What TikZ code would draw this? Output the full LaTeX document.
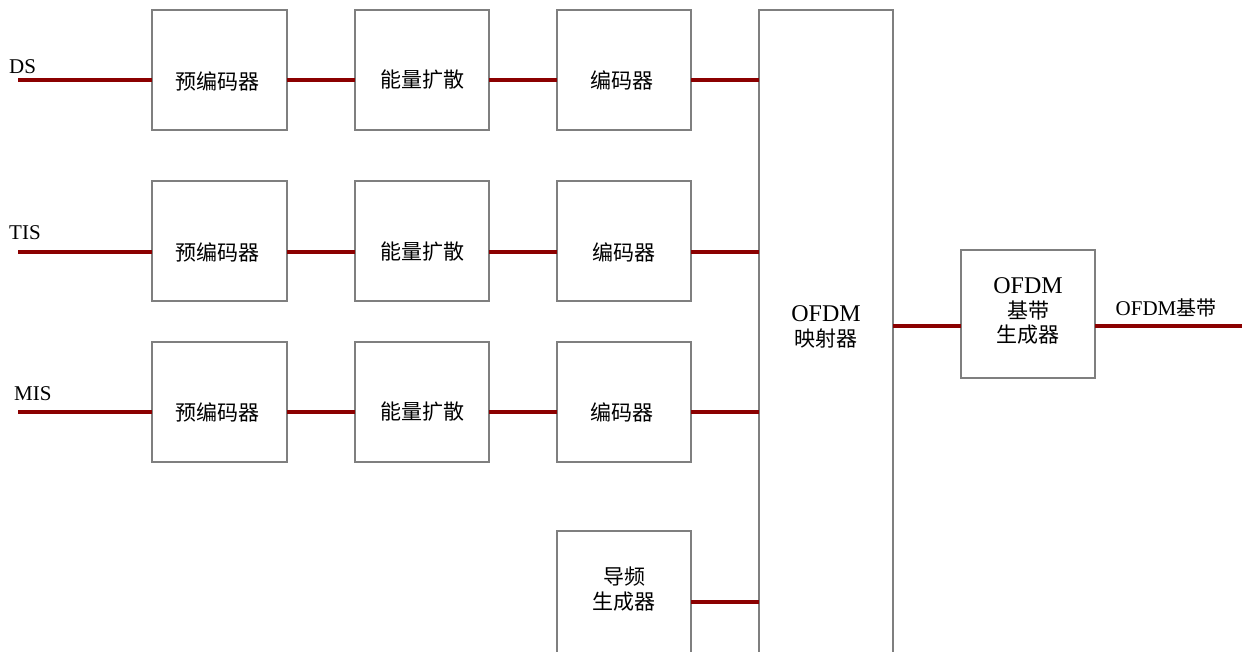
\documentclass[tikz,border=0pt]{standalone}
\usepackage{fontspec}
\setmainfont{Liberation Serif}
\newfontfamily\cjk{Noto Sans CJK SC}
\usetikzlibrary{fit}
\definecolor{wirecol}{HTML}{8B0000}
\definecolor{edgecol}{HTML}{7F7F7F}
\tikzset{
  blk/.style={draw=edgecol, line width=1.4pt, inner sep=0pt, outer sep=0pt, fill=white},
  wire/.style={draw=wirecol, line width=3.5pt},
  txt/.style={font=\fontsize{21}{24.5}\selectfont, align=center, inner sep=0pt},
  lbl/.style={font=\fontsize{21}{24}\selectfont, inner sep=0pt}
}
\newcommand{\ofdmbig}[1]{{\fontsize{24}{24.5}\selectfont #1}}
\begin{document}
\begin{tikzpicture}[x=1pt,y=-1pt]
\useasboundingbox (0,0) rectangle (1242,651);
\clip (0,0) rectangle (1242,651);
% boxes
\node[blk, fit={(152,10)(287,130)}] (pre1) {};
\node[blk, fit={(355,10)(489,130)}] (ed1) {};
\node[blk, fit={(557,10)(691,130)}] (enc1) {};
\node[blk, fit={(152,181)(287,301)}] (pre2) {};
\node[blk, fit={(355,181)(489,301)}] (ed2) {};
\node[blk, fit={(557,181)(691,301)}] (enc2) {};
\node[blk, fit={(152,342)(287,462)}] (pre3) {};
\node[blk, fit={(355,342)(489,462)}] (ed3) {};
\node[blk, fit={(557,342)(691,462)}] (enc3) {};
\node[blk, fit={(557,531)(691,700)}] (pilot) {};
\node[blk, fit={(759,10)(893,700)}] (map) {};
\node[blk, fit={(961,250)(1095,378)}] (gen) {};
% texts
\node[txt] (tpre1) at (217,81) {\cjk 预编码器};
\node[txt] (ted1) at (422,80) {\cjk 能量扩散};
\node[txt] (tenc1) at (622,80) {\cjk 编码器};
\node[txt] (tpre2) at (217,252) {\cjk 预编码器};
\node[txt] (ted2) at (422,252) {\cjk 能量扩散};
\node[txt] (tenc2) at (624,252) {\cjk 编码器};
\node[txt] (tpre3) at (217,412) {\cjk 预编码器};
\node[txt] (ted3) at (422,412) {\cjk 能量扩散};
\node[txt] (tenc3) at (622,412) {\cjk 编码器};
\node[txt] (tpilot) at (624,589) {\cjk 导频\\\cjk 生成器};
\node[txt] (tmap) at (826,327) {\ofdmbig{OFDM}\\\cjk 映射器};
\node[txt] (tgen) at (1028,311) {\ofdmbig{OFDM}\\\cjk 基带\\\cjk 生成器};
% input/output coordinates
\coordinate (in1) at (18,80);
\coordinate (in2) at (18,252);
\coordinate (in3) at (18,412);
\coordinate (out) at (1242,326);
\node[lbl, anchor=south west] (lds) at (9,74) {DS};
\node[lbl, anchor=south west] (ltis) at (9,240) {TIS};
\node[lbl, anchor=south west] (lmis) at (14,401) {MIS};
\node[lbl, anchor=south] (lout) at (1166,317) {OFDM{\cjk\fontsize{20}{24}\selectfont 基带}};
% wires
\draw[wire] (in1) -- (pre1.west|-in1);
\draw[wire] (pre1.east|-in1) -- (ed1.west|-in1);
\draw[wire] (ed1.east|-in1) -- (enc1.west|-in1);
\draw[wire] (enc1.east|-in1) -- (map.west|-in1);
\draw[wire] (in2) -- (pre2.west|-in2);
\draw[wire] (pre2.east|-in2) -- (ed2.west|-in2);
\draw[wire] (ed2.east|-in2) -- (enc2.west|-in2);
\draw[wire] (enc2.east|-in2) -- (map.west|-in2);
\draw[wire] (in3) -- (pre3.west|-in3);
\draw[wire] (pre3.east|-in3) -- (ed3.west|-in3);
\draw[wire] (ed3.east|-in3) -- (enc3.west|-in3);
\draw[wire] (enc3.east|-in3) -- (map.west|-in3);
\coordinate (pl) at (691,602);
\draw[wire] (pilot.east|-pl) -- (map.west|-pl);
\draw[wire] (map.east|-out) -- (gen.west|-out);
\draw[wire] (gen.east|-out) -- (out);
\end{tikzpicture}
\end{document}
